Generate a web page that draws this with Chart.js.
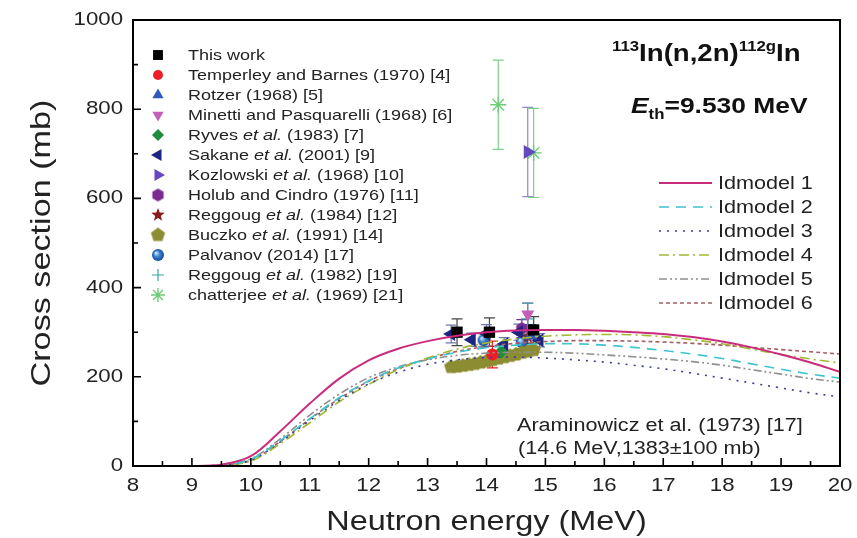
<!DOCTYPE html>
<html>
<head>
<meta charset="utf-8">
<script src="https://cdn.jsdelivr.net/npm/chart.js@4.4.1/dist/chart.umd.min.js"></script>
<style>
  html, body { margin: 0; background: #fff; }
  #wrap { width: 857px; height: 538px; }
</style>
</head>
<body>
<div id="wrap"><canvas id="chart"></canvas></div>
<script>
// ── model curves (Talys ldmodel 1-6), sampled every 0.5 MeV ──
const energies = [8, 8.5, 9, 9.5, 10, 10.5, 11, 11.5, 12, 12.5, 13, 13.5, 14, 14.5, 15, 15.5, 16, 16.5, 17, 17.5, 18, 18.5, 19, 19.5, 20];
const ldmodel1 = [0, 0, 0, 3, 22, 78, 140, 196, 237, 263, 280, 292, 300, 304, 305, 305, 303, 300, 296, 289, 279, 266, 250, 232, 211];
const ldmodel2 = [0, 0, 0, 2, 15, 57, 106, 153, 191, 220, 240, 255, 265, 271, 274, 274, 271, 266, 259, 251, 241, 229, 217, 206, 197];
const ldmodel3 = [0, 0, 0, 2, 13, 54, 102, 147, 184, 210, 228, 238, 243, 244, 242, 238, 233, 226, 218, 208, 197, 186, 175, 164, 155];
const ldmodel4 = [0, 0, 0, 1, 11, 50, 97, 144, 183, 216, 242, 262, 276, 285, 291, 294, 295, 294, 290, 283, 274, 262, 250, 240, 231];
const ldmodel5 = [0, 0, 0, 2, 16, 61, 114, 161, 198, 222, 238, 248, 253, 255, 255, 253, 249, 245, 240, 234, 226, 216, 206, 196, 188];
const ldmodel6 = [0, 0, 0, 2, 13, 55, 105, 151, 190, 218, 240, 257, 268, 275, 279, 281, 281, 280, 278, 275, 271, 266, 261, 256, 251];

// ── measured data: energy (MeV), cross section (mb), error (mb) ──
const thisWorkE = [13.5, 14.05, 14.8], thisWorkS = [300, 300, 305], thisWorkErr = [30, 32, 30];
const temperleyE = [14.1], temperleyS = [250], temperleyErr = [30];
const rotzerE = [14.75], rotzerS = [292], rotzerErr = [25];
const minettiE = [14.7], minettiS = [340], minettiErr = [25];
const ryvesE = [14.25], ryvesS = [256], ryvesErr = [12];
const sakaneE = [13.4, 13.75, 14.0, 14.3, 14.55, 14.9], sakaneS = [296, 283, 297, 273, 300, 282], sakaneErr = [20, 15, 20, 15, 18, 15];
const kozlowskiE = [14.7], kozlowskiS = [704], kozlowskiErr = [100];
const holubE = [14.6], holubS = [308], holubErr = [20];
const reggoug84E = [14.7], reggoug84S = [290], reggoug84Err = [15];
const buczkoE = [13.4, 13.5, 13.6, 13.7, 13.8, 13.9, 14.0, 14.1, 14.2, 14.3, 14.4, 14.5, 14.6, 14.7, 14.8];
const buczkoS = [222, 223, 225, 227, 229, 232, 235, 238, 241, 244, 247, 250, 254, 257, 260];
const palvanovE = [13.95, 14.6], palvanovS = [282, 278], palvanovErr = [15, 15];
const reggoug82E = [14.7], reggoug82S = [330], reggoug82Err = [35];
const chatterjeeE = [14.2, 14.8], chatterjeeS = [810, 702], chatterjeeErr = [100, 100];

const xTicks = [8, 9, 10, 11, 12, 13, 14, 15, 16, 17, 18, 19, 20];
const yTicks = [0, 200, 400, 600, 800, 1000];

const FONT = '"Liberation Sans", Arial, sans-serif';
const SX = 1.2; // the original text is drawn a bit wide

// ── marker images for shapes Chart.js lacks ──
function polyMarker(n, r, color, star) {
  const c = document.createElement('canvas');
  c.width = c.height = Math.ceil(r * 2 + 2);
  const g = c.getContext('2d'), m = c.width / 2;
  g.beginPath();
  const k = star ? n * 2 : n;
  for (let i = 0; i < k; i++) {
    const a = -Math.PI / 2 + i * Math.PI * 2 / k;
    const rr = star && i % 2 ? r * 0.42 : r;
    g.lineTo(m + rr * Math.cos(a), m + rr * Math.sin(a));
  }
  g.closePath();
  g.fillStyle = color;
  g.fill();
  return c;
}
function sphereMarker(r) {
  const c = document.createElement('canvas');
  c.width = c.height = Math.ceil(r * 2 + 2);
  const g = c.getContext('2d'), m = c.width / 2;
  const grad = g.createRadialGradient(m - r * 0.35, m - r * 0.35, 0.5, m, m, r);
  grad.addColorStop(0, '#cfe6fb');
  grad.addColorStop(0.45, '#3d84d0');
  grad.addColorStop(1, '#16489a');
  g.beginPath(); g.arc(m, m, r, 0, Math.PI * 2);
  g.fillStyle = grad; g.fill();
  return c;
}

const pts = (xs, ys) => xs.map((x, i) => ({ x, y: ys[i] }));

function pointSet(label, xs, ys, errs, color, style, extra) {
  return Object.assign({
    label, data: pts(xs, ys), errors: errs, group: 'pts',
    pointStyle: style, pointRadius: 6, rotation: 0,
    backgroundColor: color, borderColor: color, borderWidth: 0,
    errColor: color, showLine: false, order: 1
  }, extra || {});
}
function modelSet(label, ys, color, dash, width) {
  return {
    label, data: pts(energies, ys), group: 'lines',
    showLine: true, pointRadius: 0, borderColor: color, backgroundColor: color,
    borderWidth: width || 1.6, borderDash: dash, tension: 0.35, order: 0
  };
}

const datasets = [
  pointSet('This work', thisWorkE, thisWorkS, thisWorkErr, '#000000', 'rect', { pointRadius: 8, errColor: '#444' }),
  pointSet('Temperley and Barnes (1970) [4]', temperleyE, temperleyS, temperleyErr, '#ee1c25', 'circle'),
  pointSet('Rotzer (1968) [5]', rotzerE, rotzerS, rotzerErr, '#2f58b8', 'triangle', { pointRadius: 7.5 }),
  pointSet('Minetti and Pasquarelli (1968) [6]', minettiE, minettiS, minettiErr, '#c45fb8', 'triangle', { rotation: 180, pointRadius: 7.5 }),
  pointSet('Ryves et al. (1983) [7]', ryvesE, ryvesS, ryvesErr, '#1e8c3c', 'rectRot', { pointRadius: 7 }),
  pointSet('Sakane et al. (2001) [9]', sakaneE, sakaneS, sakaneErr, '#1c2580', 'triangle', { rotation: -90, pointRadius: 8, errColor: '#6f76a8' }),
  pointSet('Kozlowski et al. (1968) [10]', kozlowskiE, kozlowskiS, kozlowskiErr, '#6548c0', 'triangle', { rotation: 90, pointRadius: 8, errColor: '#8f86c4' }),
  pointSet('Holub and Cindro (1976) [11]', holubE, holubS, holubErr, '#7a2a90', polyMarker(6, 6.5, '#7a2a90')),
  pointSet('Reggoug et al. (1984) [12]', reggoug84E, reggoug84S, reggoug84Err, '#8b1a1a', polyMarker(5, 7, '#8b1a1a', true)),
  pointSet('Buczko et al. (1991) [14]', buczkoE, buczkoS, null, '#8c8c32', polyMarker(5, 7.5, '#8c8c32')),
  pointSet('Palvanov (2014) [17]', palvanovE, palvanovS, palvanovErr, '#2a6cc0', sphereMarker(6)),
  pointSet('Reggoug et al. (1982) [19]', reggoug82E, reggoug82S, reggoug82Err, '#3aa6a0', 'cross', { borderWidth: 1.2, pointRadius: 7 }),
  pointSet('chatterjee et al. (1969) [21]', chatterjeeE, chatterjeeS, chatterjeeErr, '#6ccc78', 'star', { borderWidth: 1.4, pointRadius: 8, errColor: '#7fd08a' }),
  modelSet('ldmodel 1', ldmodel1, '#c92c7c', [], 2),
  modelSet('ldmodel 2', ldmodel2, '#3ec4cc', [10, 7]),
  modelSet('ldmodel 3', ldmodel3, '#3b3d9a', [2, 6]),
  modelSet('ldmodel 4', ldmodel4, '#a3b834', [10, 4, 2, 4]),
  modelSet('ldmodel 5', ldmodel5, '#8f8f8f', [8, 3, 2, 3, 2, 3]),
  modelSet('ldmodel 6', ldmodel6, '#a35d63', [4, 3])
];

// draw a run of text pieces, widened along the baseline
function wideText(ctx, parts, x, y, align) {
  let w = 0;
  parts.forEach(p => { ctx.font = p.font; w += ctx.measureText(p.t).width * SX; });
  let cx = align === 'right' ? x - w : align === 'center' ? x - w / 2 : x;
  ctx.textAlign = 'left';
  parts.forEach(p => {
    ctx.font = p.font;
    ctx.save();
    ctx.translate(cx, y + (p.dy || 0));
    ctx.scale(SX, 1);
    ctx.fillText(p.t, 0, 0);
    ctx.restore();
    cx += ctx.measureText(p.t).width * SX;
  });
}
function labelParts(label, size) {
  const f = size + 'px ' + FONT, fi = 'italic ' + size + 'px ' + FONT;
  const i = label.indexOf('et al.');
  if (i < 0) return [{ t: label, font: f }];
  return [{ t: label.slice(0, i), font: f }, { t: 'et al.', font: fi }, { t: label.slice(i + 6), font: f }];
}

const errorBars = {
  id: 'errorBars',
  beforeDatasetsDraw(chart) {
    const { ctx, scales: { x, y } } = chart;
    ctx.save();
    ctx.lineWidth = 1.2;
    chart.data.datasets.forEach(ds => {
      if (!ds.errors) return;
      ctx.strokeStyle = ds.errColor;
      ds.data.forEach((p, i) => {
        const px = x.getPixelForValue(p.x);
        const y1 = y.getPixelForValue(p.y + ds.errors[i]);
        const y2 = y.getPixelForValue(p.y - ds.errors[i]);
        ctx.beginPath();
        ctx.moveTo(px, y1); ctx.lineTo(px, y2);
        ctx.moveTo(px - 5.5, y1); ctx.lineTo(px + 5.5, y1);
        ctx.moveTo(px - 5.5, y2); ctx.lineTo(px + 5.5, y2);
        ctx.stroke();
      });
    });
    ctx.restore();
  }
};

const decor = {
  id: 'decor',
  afterDraw(chart) {
    const { ctx, chartArea: a, scales: { x, y } } = chart;
    ctx.save();
    // frame
    ctx.strokeStyle = '#000';
    ctx.lineWidth = 2;
    ctx.strokeRect(a.left, a.top, a.right - a.left, a.bottom - a.top);
    // inward ticks, major and minor
    ctx.lineWidth = 1.6;
    ctx.beginPath();
    xTicks.forEach((v, i) => {
      const px = x.getPixelForValue(v);
      ctx.moveTo(px, a.bottom); ctx.lineTo(px, a.bottom - 8);
      if (i < xTicks.length - 1) {
        const pm = x.getPixelForValue((v + xTicks[i + 1]) / 2);
        ctx.moveTo(pm, a.bottom); ctx.lineTo(pm, a.bottom - 5);
      }
    });
    yTicks.forEach((v, i) => {
      const py = y.getPixelForValue(v);
      ctx.moveTo(a.left, py); ctx.lineTo(a.left + 8, py);
      if (i < yTicks.length - 1) {
        const pm = y.getPixelForValue((v + yTicks[i + 1]) / 2);
        ctx.moveTo(a.left, pm); ctx.lineTo(a.left + 5, pm);
      }
    });
    ctx.stroke();

    // tick labels
    ctx.fillStyle = '#222';
    ctx.textBaseline = 'middle';
    const tf = '18.5px ' + FONT;
    xTicks.forEach(v => wideText(ctx, [{ t: String(v), font: tf }], x.getPixelForValue(v), a.bottom + 20, 'center'));
    yTicks.forEach(v => wideText(ctx, [{ t: String(v), font: tf }], a.left - 10, y.getPixelForValue(v), 'right'));

    // axis titles
    ctx.textBaseline = 'alphabetic';
    wideText(ctx, [{ t: 'Neutron energy (MeV)', font: '27px ' + FONT }], (a.left + a.right) / 2, 530, 'center');
    ctx.save();
    ctx.translate(50, (a.top + a.bottom) / 2);
    ctx.rotate(-Math.PI / 2);
    wideText(ctx, [{ t: 'Cross section (mb)', font: '28.5px ' + FONT }], 0, 0, 'center');
    ctx.restore();

    // marker legend
    let row = 0;
    chart.data.datasets.forEach(ds => {
      if (ds.group !== 'pts') return;
      const ly = 55 + row * 20, lx = 158;
      row++;
      ctx.save();
      if (ds.pointStyle instanceof HTMLCanvasElement) {
        const im = ds.pointStyle;
        ctx.drawImage(im, lx - im.width / 2, ly - im.height / 2);
      } else if (Chart.helpers && Chart.helpers.drawPoint) {
        ctx.fillStyle = ds.backgroundColor;
        ctx.strokeStyle = ds.borderColor;
        ctx.lineWidth = ds.borderWidth;
        Chart.helpers.drawPoint(ctx, { pointStyle: ds.pointStyle, rotation: ds.rotation, radius: ds.pointRadius - 1, borderWidth: ds.borderWidth }, lx, ly);
      }
      ctx.restore();
      ctx.fillStyle = '#222';
      ctx.textBaseline = 'middle';
      wideText(ctx, labelParts(ds.label, 15), 188, ly + 1, 'left');
    });

    // line legend
    row = 0;
    chart.data.datasets.forEach(ds => {
      if (ds.group !== 'lines') return;
      const ly = 183 + row * 24;
      row++;
      ctx.save();
      ctx.strokeStyle = ds.borderColor;
      ctx.lineWidth = ds.borderWidth;
      ctx.setLineDash(ds.borderDash);
      ctx.beginPath(); ctx.moveTo(659, ly); ctx.lineTo(712, ly); ctx.stroke();
      ctx.restore();
      ctx.fillStyle = '#222';
      ctx.textBaseline = 'middle';
      wideText(ctx, [{ t: ds.label.replace('ld', 'Id'), font: '18px ' + FONT }], 718, ly + 1, 'left');
    });

    // reaction and threshold
    ctx.fillStyle = '#111';
    ctx.textBaseline = 'alphabetic';
    const b = 'bold 23px ' + FONT, bs = 'bold 14px ' + FONT;
    wideText(ctx, [
      { t: '113', font: bs, dy: -10 }, { t: 'In(n,2n)', font: b },
      { t: '112g', font: bs, dy: -10 }, { t: 'In', font: b }
    ], 612, 61, 'left');
    wideText(ctx, [
      { t: 'E', font: 'italic bold 22px ' + FONT }, { t: 'th', font: 'bold 14px ' + FONT, dy: 6 },
      { t: '=9.530 MeV', font: 'bold 22px ' + FONT }
    ], 631, 113, 'left');

    // note on the off-scale point
    ctx.fillStyle = '#222';
    wideText(ctx, [{ t: 'Araminowicz et al. (1973) [17]', font: '18px ' + FONT }], 517, 431, 'left');
    wideText(ctx, [{ t: '(14.6 MeV,1383±100 mb)', font: '18px ' + FONT }], 518, 454, 'left');
    ctx.restore();
  }
};

new Chart(document.getElementById('chart'), {
  type: 'scatter',
  data: { datasets },
  options: {
    responsive: true, maintainAspectRatio: false, animation: false, events: [],
    layout: { padding: { left: 0, right: 17, top: 20, bottom: 0 } },
    plugins: { legend: { display: false }, tooltip: { enabled: false } },
    scales: {
      x: {
        type: 'linear', min: 8, max: 20,
        ticks: { display: false, stepSize: 1 },
        grid: { display: false }, border: { display: false },
        afterFit: s => { s.height = 72; }
      },
      y: {
        type: 'linear', min: 0, max: 1000,
        ticks: { display: false, stepSize: 200 },
        grid: { display: false }, border: { display: false },
        afterFit: s => { s.width = 133; }
      }
    }
  },
  plugins: [errorBars, decor]
});
</script>
</body>
</html>
